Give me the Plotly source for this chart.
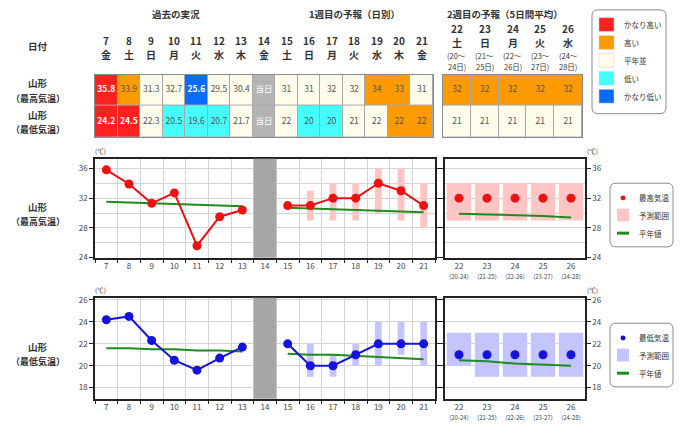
import plotly.graph_objects as go

W, H = 680, 434
FONT = "Noto Sans CJK JP"

# ---- データ ----
days = [7, 8, 9, 10, 11, 12, 13, 14, 15, 16, 17, 18, 19, 20, 21]
weekdays = ["金", "土", "日", "月", "火", "水", "木", "金", "土", "日", "月", "火", "水", "木", "金"]
today = 14

obs_days = [7, 8, 9, 10, 11, 12, 13]
max_obs = [35.8, 33.9, 31.3, 32.7, 25.6, 29.5, 30.4]
min_obs = [24.2, 24.5, 22.3, 20.5, 19.6, 20.7, 21.7]
max_obs_norm = [31.5, 31.4, 31.3, 31.2, 31.1, 31.0, 30.9]
min_obs_norm = [21.6, 21.6, 21.5, 21.5, 21.4, 21.4, 21.3]

fc_days = [15, 16, 17, 18, 19, 20, 21]
max_fc = [31, 31, 32, 32, 34, 33, 31]
min_fc = [22, 20, 20, 21, 22, 22, 22]
max_fc_norm = [30.7, 30.6, 30.5, 30.4, 30.3, 30.2, 30.1]
min_fc_norm = [21.1, 21.0, 21.0, 20.9, 20.8, 20.7, 20.6]

rng_days = [16, 17, 18, 19, 20, 21]
max_rng_lo = [29, 29, 29, 30, 29, 28]
max_rng_hi = [33, 34, 34, 36, 36, 34]
min_rng_lo = [19, 19, 20, 20, 21, 20]
min_rng_hi = [22, 21, 22, 24, 24, 24]

w2_days = [22, 23, 24, 25, 26]
w2_weekdays = ["土", "日", "月", "火", "水"]
w2_from = [20, 21, 22, 23, 24]
w2_to = [24, 25, 26, 27, 28]
w2_max = [32, 32, 32, 32, 32]
w2_min = [21, 21, 21, 21, 21]
w2_max_lo = [29, 29, 29, 29, 29]
w2_max_hi = [34, 34, 34, 34, 34]
w2_min_lo = [20, 19, 19, 19, 19]
w2_min_hi = [23, 23, 23, 23, 23]
w2_max_norm = [29.9, 29.8, 29.7, 29.6, 29.4]
w2_min_norm = [20.5, 20.4, 20.2, 20.1, 20.0]

# 階級: vh=かなり高い h=高い n=平年並 l=低い vl=かなり低い t=当日
max_class = ["vh", "h", "n", "n", "vl", "n", "n", "t", "n", "n", "n", "n", "h", "h", "n"]
min_class = ["vh", "vh", "n", "l", "l", "l", "n", "t", "n", "l", "l", "n", "n", "h", "h"]
w2_max_class = ["h", "h", "h", "h", "h"]
w2_min_class = ["n", "n", "n", "n", "n"]

class_keys = ["vh", "h", "n", "l", "vl", "t"]
class_names = ["かなり高い", "高い", "平年並", "低い", "かなり低い"]
class_colors = ["#ff2020", "#ff9a00", "#fffcec", "#45ffff", "#0a6cff", "#b4b4b4"]


def px(x):
    return x / W


def py(y):
    return 1 - y / H


def xd(a, b):
    return [a / W, b / W]


def yd(top, bottom):
    return [1 - bottom / H, 1 - top / H]


# 離散カラースケール
n = len(class_keys)
cscale = []
for i, c in enumerate(class_colors):
    cscale += [[i / n, c], [(i + 1) / n, c]]


def cell_text(v, cls, dec):
    if cls == "t":
        return "当日"
    s = f"{v:.1f}" if dec else f"{v:d}"
    if cls in ("vh", "vl"):
        return "<b>" + s + "</b>"
    return s


def cell_color(cls):
    if cls in ("vh", "vl", "t"):
        return "white"
    return "#555555"


fig = go.Figure()

# ---- 表（過去・1週目）----
max_vals = max_obs + [None] + max_fc
min_vals = min_obs + [None] + min_fc
max_txt = [cell_text(v, c, d < today) for v, c, d in zip(max_vals, max_class, days)]
min_txt = [cell_text(v, c, d < today) for v, c, d in zip(min_vals, min_class, days)]

fig.add_trace(go.Heatmap(
    x=days, y=[0, 1],
    z=[[class_keys.index(c) for c in max_class], [class_keys.index(c) for c in min_class]],
    colorscale=cscale, zmin=-0.5, zmax=n - 0.5, showscale=False, hoverinfo="skip",
    xgap=1, ygap=1, xaxis="x", yaxis="y"))
fig.add_trace(go.Scatter(
    x=days + days, y=[0] * len(days) + [1] * len(days), mode="text",
    text=max_txt + min_txt,
    textfont=dict(size=8.5, family=FONT, color=[cell_color(c) for c in max_class + min_class]),
    hoverinfo="skip", xaxis="x", yaxis="y"))

# ---- 表（2週目）----
fig.add_trace(go.Heatmap(
    x=w2_days, y=[0, 1],
    z=[[class_keys.index(c) for c in w2_max_class], [class_keys.index(c) for c in w2_min_class]],
    colorscale=cscale, zmin=-0.5, zmax=n - 0.5, showscale=False, hoverinfo="skip",
    xgap=1, ygap=1, xaxis="x2", yaxis="y2"))
fig.add_trace(go.Scatter(
    x=w2_days + w2_days, y=[0] * 5 + [1] * 5, mode="text",
    text=[cell_text(v, c, False) for v, c in zip(w2_max, w2_max_class)]
    + [cell_text(v, c, False) for v, c in zip(w2_min, w2_min_class)],
    textfont=dict(size=8.5, family=FONT, color=[cell_color(c) for c in w2_max_class + w2_min_class]),
    hoverinfo="skip", xaxis="x2", yaxis="y2"))


# ---- グラフ ----
def add_panel(xa, ya, xa2, ya2, obs, obs_norm, fc, fc_norm, lo, hi, w2, w2lo, w2hi, w2norm,
              line_c, band_c):
    # 予測範囲
    fig.add_trace(go.Bar(x=rng_days, y=[h - l for h, l in zip(hi, lo)], base=lo, width=0.3,
                         marker=dict(color=band_c, line_width=0), hoverinfo="skip",
                         xaxis=xa, yaxis=ya))
    fig.add_trace(go.Bar(x=w2_days, y=[h - l for h, l in zip(w2hi, w2lo)], base=w2lo, width=0.87,
                         marker=dict(color=band_c, line_width=0), hoverinfo="skip",
                         xaxis=xa2, yaxis=ya2))
    # 平年値
    for xs, ys, ax, ay in [(obs_days, obs_norm, xa, ya), (fc_days, fc_norm, xa, ya),
                           (w2_days, w2norm, xa2, ya2)]:
        fig.add_trace(go.Scatter(x=xs, y=ys, mode="lines", line=dict(color="#1f8a1f", width=2),
                                 hoverinfo="skip", xaxis=ax, yaxis=ay))
    # 実況・予報
    for xs, ys in [(obs_days, obs), (fc_days, fc)]:
        fig.add_trace(go.Scatter(x=xs, y=ys, mode="lines+markers",
                                 line=dict(color=line_c, width=2),
                                 marker=dict(color=line_c, size=9),
                                 hoverinfo="skip", xaxis=xa, yaxis=ya))
    fig.add_trace(go.Scatter(x=w2_days, y=w2, mode="markers",
                             marker=dict(color=line_c, size=9),
                             hoverinfo="skip", xaxis=xa2, yaxis=ya2))


add_panel("x3", "y3", "x4", "y4", max_obs, max_obs_norm, max_fc, max_fc_norm,
          max_rng_lo, max_rng_hi, w2_max, w2_max_lo, w2_max_hi, w2_max_norm,
          "#ee1111", "#ffc4c4")
add_panel("x5", "y5", "x6", "y6", min_obs, min_obs_norm, min_fc, min_fc_norm,
          min_rng_lo, min_rng_hi, w2_min, w2_min_lo, w2_min_hi, w2_min_norm,
          "#1414dd", "#c4c4ff")

tickfont = dict(size=8, family=FONT, color="#444444")
table_ax = dict(showline=True, mirror=True, linecolor="#8a8a8a", linewidth=1, showgrid=False,
                zeroline=False, showticklabels=False, ticks="", fixedrange=True)


def chart_x(dom, rng, vals, text, anchor, grid):
    return dict(domain=dom, range=rng, anchor=anchor, tickvals=vals, ticktext=text, ticks="",
                showgrid=False, zeroline=False, showline=True, mirror=True,
                linecolor="#222222", linewidth=1.5, tickfont=tickfont,
                minor=dict(tick0=rng[0], dtick=1, showgrid=grid, gridcolor="#d4d4d4",
                           ticks="outside" if grid else "", ticklen=4, tickcolor="#222222"))


def chart_y(dom, rng, vals, anchor, side):
    return dict(domain=dom, range=rng, anchor=anchor, side=side, tickvals=vals,
                ticks="outside", ticklen=4, tickcolor="#222222", mirror="ticks",
                showline=True, linecolor="#222222", linewidth=1.5, zeroline=False,
                showgrid=True, gridcolor="#d4d4d4", tickfont=tickfont,
                minor=dict(tick0=rng[0], dtick=2, showgrid=True, gridcolor="#d4d4d4"))


w1_rng = [days[0] - 0.5, days[-1] + 0.5]
w2_rng = [w2_days[0] - 0.5, w2_days[-1] + 0.5]
w2_ticktext = [f"{d}<br><span style='font-size:6px'>({a}-{b})</span>"
               for d, a, b in zip(w2_days, w2_from, w2_to)]
max_rng = [24, 37.3]
min_rng = [17, 26.2]

fig.update_layout(
    width=W, height=H, margin=dict(l=0, r=0, t=0, b=0),
    paper_bgcolor="white", plot_bgcolor="white", showlegend=False,
    barmode="overlay", font=dict(family=FONT, color="#333333"),
    xaxis=dict(table_ax, domain=xd(95, 433), range=w1_rng, anchor="y"),
    yaxis=dict(table_ax, domain=yd(72, 136), range=[1.5, -0.5], anchor="x"),
    xaxis2=dict(table_ax, domain=xd(443, 582), range=w2_rng, anchor="y2"),
    yaxis2=dict(table_ax, domain=yd(72, 136), range=[1.5, -0.5], anchor="x2"),
    xaxis3=chart_x(xd(95, 435), w1_rng, days, [str(d) for d in days], "y3", True),
    yaxis3=chart_y(yd(158, 259), max_rng, [24, 28, 32, 36], "x3", "left"),
    xaxis4=chart_x(xd(445, 585), w2_rng, w2_days, w2_ticktext, "y4", False),
    yaxis4=chart_y(yd(158, 259), max_rng, [24, 28, 32, 36], "x4", "right"),
    xaxis5=chart_x(xd(95, 435), w1_rng, days, [str(d) for d in days], "y5", True),
    yaxis5=chart_y(yd(300, 403), min_rng, [18, 20, 22, 24, 26], "x5", "left"),
    xaxis6=chart_x(xd(445, 585), w2_rng, w2_days, w2_ticktext, "y6", False),
    yaxis6=chart_y(yd(300, 403), min_rng, [18, 20, 22, 24, 26], "x6", "right"),
)
fig.update_yaxes(minor=dict(dtick=2, tick0=18), selector=dict(anchor="x5"))
fig.update_yaxes(minor=dict(dtick=2, tick0=18), selector=dict(anchor="x6"))

shapes = []
# 表の枠線色（セル間の隙間）
for xr, yr in [("x", "y"), ("x2", "y2")]:
    shapes.append(dict(type="rect", xref=xr + " domain", yref=yr + " domain", x0=0, x1=1, y0=0, y1=1,
                       fillcolor="#a8a8a8", line_width=0, layer="below"))
# 当日の帯
for xr, yr in [("x3", "y3"), ("x5", "y5")]:
    shapes.append(dict(type="rect", xref=xr, yref=yr + " domain", x0=today - 0.5, x1=today + 0.5,
                       y0=0, y1=1, fillcolor="#a6a6a6", line_width=0, layer="above"))


def rounded(x0, y0, x1, y1, r=6):
    ax, bx = px(x0), px(x1)
    ay, by = py(y0), py(y1)
    rx, ry = r / W, r / H
    p = (f"M{ax + rx},{ay} L{bx - rx},{ay} Q{bx},{ay} {bx},{ay - ry} "
         f"L{bx},{by + ry} Q{bx},{by} {bx - rx},{by} L{ax + rx},{by} Q{ax},{by} {ax},{by + ry} "
         f"L{ax},{ay - ry} Q{ax},{ay} {ax + rx},{ay} Z")
    return dict(type="path", xref="paper", yref="paper", path=p,
                line=dict(color="#8a8a8a", width=1), fillcolor="white")


annotations = []


def note(x, y, text, size=8, xref="paper", anchor="center", color="#333333"):
    annotations.append(dict(x=x if xref != "paper" else px(x), y=py(y), xref=xref, yref="paper",
                            text=text, showarrow=False, xanchor=anchor, yanchor="middle",
                            font=dict(size=size, family=FONT, color=color)))


# 凡例（階級）
shapes.append(rounded(592, 6, 666, 112))
for i, (c, name) in enumerate(zip(class_colors, class_names)):
    cy = 21 + i * 18.3
    shapes.append(dict(type="rect", xref="paper", yref="paper", x0=px(599), x1=px(614),
                       y0=py(cy + 7), y1=py(cy - 7), fillcolor=c, line=dict(color="#cccccc", width=0.5)))
    note(622, cy, name, 7.5, anchor="left")

# 凡例（グラフ）
for top, dot_c, band_c, label in [(183, "#ee1111", "#ffc4c4", "最高気温"),
                                   (326, "#1414dd", "#c4c4ff", "最低気温")]:
    shapes.append(rounded(610, top, 673, top + 65))
    shapes.append(dict(type="circle", xref="paper", yref="paper", x0=px(620.5), x1=px(625.5),
                       y0=py(top + 17.5), y1=py(top + 12.5), fillcolor=dot_c, line_width=0))
    shapes.append(dict(type="rect", xref="paper", yref="paper", x0=px(617), x1=px(629),
                       y0=py(top + 39), y1=py(top + 26), fillcolor=band_c, line_width=0))
    shapes.append(dict(type="line", xref="paper", yref="paper", x0=px(617), x1=px(629),
                       y0=py(top + 51), y1=py(top + 51), line=dict(color="#1f8a1f", width=3)))
    note(637, top + 15, label, 7.5, anchor="left")
    note(637, top + 33, "予測範囲", 7.5, anchor="left")
    note(637, top + 51, "平年値", 7.5, anchor="left")

# 見出し
note(176, 10, "<b>過去の実況</b>", 9.5)
note(354, 10, "<b>1週目の予報（日別）</b>", 9.5)
note(505, 10, "<b>2週目の予報（5日間平均）</b>", 9.5)
note(38, 43, "<b>日付</b>", 9.5)
for d, wd in zip(days, weekdays):
    note(d, 37, f"<b>{d}</b>", 10, xref="x")
    note(d, 52, f"<b>{wd}</b>", 10, xref="x")
for d, wd, a, b in zip(w2_days, w2_weekdays, w2_from, w2_to):
    note(d, 25, f"<b>{d}</b>", 10, xref="x2")
    note(d, 39, f"<b>{wd}</b>", 10, xref="x2")
    note(d, 53, f"({a}～", 7.5, xref="x2")
    note(d, 64, f"{b}日)", 7.5, xref="x2")

# 行ラベル
for y, lab in [(88, "最高気温"), (120, "最低気温"), (214, "最高気温"), (357, "最低気温")]:
    note(38, y - 7, "<b>山形</b>", 9.5)
    note(38, y + 8, f"<b>（{lab}）</b>", 9)

# 単位
for y in [150, 292]:
    note(100, y, "(℃)", 6.5)
    note(592, y, "(℃)", 6.5)

fig.update_layout(shapes=shapes, annotations=annotations)

fig.write_html("out.html", config={"displayModeBar": False},
               post_script="document.body.style.margin='0';document.body.style.overflow='hidden';")
